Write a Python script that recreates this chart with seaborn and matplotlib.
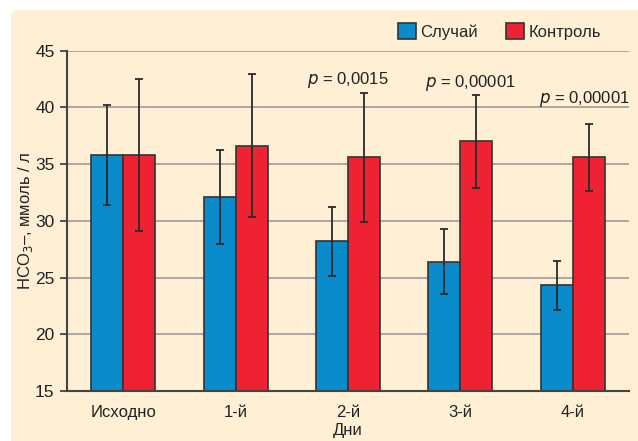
import matplotlib
matplotlib.use("Agg")
import matplotlib.pyplot as plt
from matplotlib.patches import FancyBboxPatch
import seaborn as sns
import pandas as pd

days = ["Исходно", "1-й", "2-й", "3-й", "4-й"]
groups = ["Случай", "Контроль"]
case_mean = [35.8, 32.1, 28.2, 26.4, 24.3]
case_err = [4.4, 4.15, 3.05, 2.85, 2.15]
ctrl_mean = [35.8, 36.6, 35.6, 37.0, 35.6]
ctrl_err = [6.7, 6.3, 5.7, 4.1, 2.95]
p_texts = ["p = 0,0015", "p = 0,00001", "p = 0,00001"]
p_days = [2, 3, 4]
p_x = [2.0, 3.09, 4.1]
p_y = [42.05, 41.8, 40.35]
yticks = [15, 20, 25, 30, 35, 40, 45]

BLUE = "#0a8bcc"
RED = "#ee2233"
BG = "#feefd5"
DARK = "#2b2b2b"

sns.set_style("white")
plt.rcParams["font.family"] = ["Liberation Sans Narrow", "Liberation Sans", "DejaVu Sans"]
plt.rcParams["mathtext.fontset"] = "custom"
plt.rcParams["mathtext.rm"] = "Liberation Sans Narrow"
plt.rcParams["mathtext.it"] = "Liberation Sans Narrow:italic"

df = pd.DataFrame({
    "day": days * 2,
    "group": [groups[0]] * len(days) + [groups[1]] * len(days),
    "value": case_mean + ctrl_mean,
})

fig = plt.figure(figsize=(6.38, 4.41), dpi=100)
fig.patch.set_facecolor("white")
bg = FancyBboxPatch((11 / 638, -0.05), 1.1, 1.05 - 10 / 441,
                    boxstyle="round,pad=0,rounding_size=0.012",
                    transform=fig.transFigure, facecolor=BG, edgecolor="none", zorder=-10)
fig.patches.append(bg)

ax = fig.add_axes([67 / 638, 50 / 441, (629 - 67) / 638, (391 - 50.6) / 441])
ax.set_facecolor("none")

sns.barplot(data=df, x="day", y="value", hue="group", order=days, hue_order=groups,
            palette=[BLUE, RED], width=0.57, gap=0, errorbar=None, saturation=1,
            edgecolor="#333333", linewidth=1.2, ax=ax, zorder=2)

for cont, means, errs in zip(ax.containers, [case_mean, ctrl_mean], [case_err, ctrl_err]):
    xs = [p.get_x() + p.get_width() / 2 for p in cont.patches]
    ax.errorbar(xs, means, yerr=errs, fmt="none", ecolor=DARK, elinewidth=1.3,
                capsize=2.6, capthick=1.3, zorder=4)

ax.set_ylim(15, 45)
ax.set_xlim(-0.5, len(days) - 0.5)
ax.set_yticks(yticks)
ax.yaxis.grid(True, color="#9c9c9c", linewidth=1.2, zorder=0)
ax.set_axisbelow(True)

ax.set_xticks(range(len(days)))
ax.set_xticklabels(days)
ax.set_xticks([i - 0.5 for i in range(len(days) + 1)], minor=True)
ax.tick_params(axis="x", which="major", length=0, pad=10, labelsize=12, labelcolor="#222222")
ax.tick_params(axis="x", which="minor", length=4, width=1.3, color="#444444", direction="out")
ax.tick_params(axis="y", length=5, width=1.3, color="#444444", direction="out", pad=4,
               labelsize=12.5, labelcolor="#222222", left=True)

for s in ["top", "right"]:
    ax.spines[s].set_visible(False)
for s in ["left", "bottom"]:
    ax.spines[s].set_color("#444444")
    ax.spines[s].set_linewidth(1.5)

ax.set_xlabel("Дни", fontsize=12, color="#222222", labelpad=2)
ax.set_ylabel(r"HCO$_3$–, ммоль / л", fontsize=12, color="#222222", labelpad=0)

for t, x, y in zip(p_texts, p_x, p_y):
    p, rest = t.split(" ", 1)
    ax.text(x, y, r"$\it{p}$ " + rest, ha="center", va="baseline", fontsize=12,
            color="#222222", zorder=5)

handles, labels = ax.get_legend_handles_labels()
ax.legend(handles, labels, ncol=2, loc="center left",
          bbox_to_anchor=(398 / 638, 1 - 31.5 / 441), bbox_transform=fig.transFigure,
          frameon=False, fontsize=12, handlelength=1.05, handleheight=1.05,
          handletextpad=0.25, columnspacing=1.75, borderpad=0, borderaxespad=0)

fig.savefig("out.png", dpi=100, facecolor="white")
